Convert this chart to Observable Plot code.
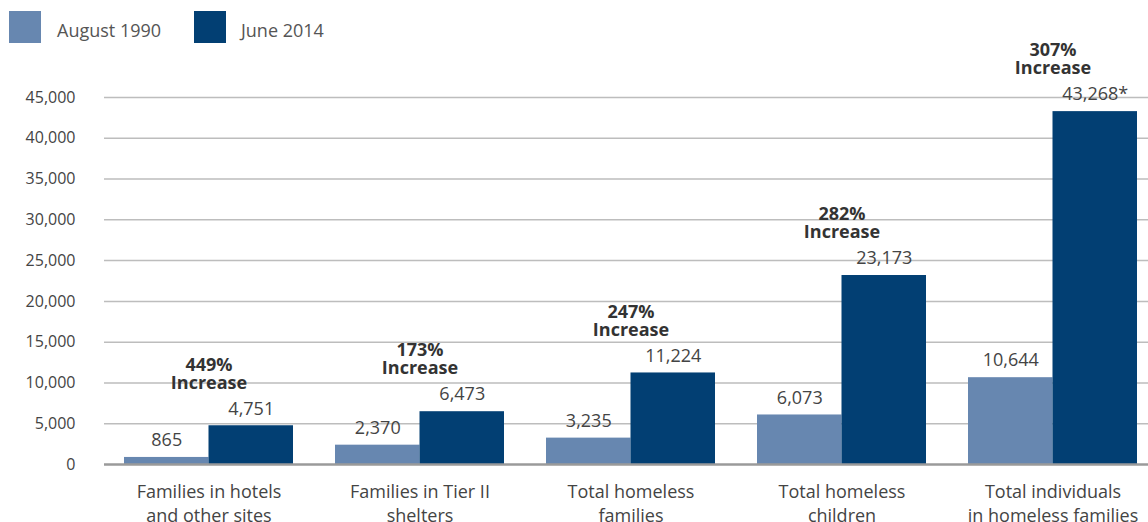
<!DOCTYPE html>
<html><head><meta charset="utf-8">
<script src="https://cdn.jsdelivr.net/npm/d3@7"></script>
<script src="https://cdn.jsdelivr.net/npm/@observablehq/plot@0.6"></script>
<style>
body{margin:0;overflow:hidden;background:#fff;font-family:"Open Sans",sans-serif;}
#legend{position:relative;height:56px;}
.sw{position:absolute;top:11px;width:32px;height:32px;}
.lb{position:absolute;top:20px;font-size:18px;color:#555;line-height:20px;}
</style></head><body>
<div id="legend"></div><div id="chart"></div>
<script>
const categories = ["Families in hotels\nand other sites","Families in Tier II\nshelters","Total homeless\nfamilies","Total homeless\nchildren","Total individuals\nin homeless families"];
const series = ["August 1990","June 2014"];
const aug1990 = [865, 2370, 3235, 6073, 10644];
const jun2014 = [4751, 6473, 11224, 23173, 43268];
const footnotes2014 = ["", "", "", "", "*"];
const increases = ["449%", "173%", "247%", "282%", "307%"];
const yTicks = [0, 5000, 10000, 15000, 20000, 25000, 30000, 35000, 40000, 45000];
const colors = ["#6787b0", "#023f73"];

const fmt = d3.format(",");
const light = categories.map((c, i) => ({category: c, series: series[0], value: aug1990[i], label: fmt(aug1990[i])}));
const dark = categories.map((c, i) => ({category: c, series: series[1], value: jun2014[i], label: fmt(jun2014[i]) + footnotes2014[i], inc: increases[i] + "\nIncrease"}));

// legend
const legend = document.getElementById("legend");
const legendPos = [[9, 57], [194, 241]];
series.forEach((s, i) => {
  const sw = document.createElement("div"); sw.className = "sw"; sw.style.left = legendPos[i][0] + "px"; sw.style.background = colors[i]; legend.appendChild(sw);
  const lb = document.createElement("div"); lb.className = "lb"; lb.style.left = legendPos[i][1] + "px"; lb.textContent = s; legend.appendChild(lb);
});

const half = 84.5;
const chart = Plot.plot({
  width: 1148, height: 466,
  marginLeft: 104, marginRight: 0, marginTop: 41, marginBottom: 58,
  style: {fontFamily: "'Open Sans', sans-serif", color: "#444", overflow: "visible"},
  x: {domain: categories, range: [102, 1158], paddingInner: 0.2, paddingOuter: 0.1, label: null},
  y: {domain: [0, 45000], label: null},
  color: {domain: series, range: colors},
  marks: [
    Plot.ruleY(yTicks.filter(d => d > 0), {stroke: "#bdbdbd", strokeWidth: 1.5}),
    Plot.barY(light, {x: "category", y: "value", fill: "series", insetRight: half}),
    Plot.barY(dark, {x: "category", y: "value", fill: "series", insetLeft: half}),
    Plot.ruleY([0], {stroke: "#9a9a9a", strokeWidth: 2.5}),
    Plot.text(light, {x: "category", y: "value", text: "label", dx: -half / 2, dy: -17, fontSize: 18, fill: "#444"}),
    Plot.text(dark, {x: "category", y: "value", text: "label", dx: half / 2, dy: -17, fontSize: 18, fill: "#444"}),
    Plot.text(dark, {x: "category", y: "value", text: "inc", dy: -52, fontSize: 18, fontWeight: "bold", lineHeight: 1.0, fill: "#333"}),
    Plot.axisY({ticks: yTicks, tickFormat: fmt, tickSize: 0, tickPadding: 29, fontSize: 16, fill: "#444", label: null}),
    Plot.axisX({tickSize: 0, tickPadding: 16, fontSize: 18, lineHeight: 1.35, fill: "#444", label: null})
  ]
});
document.getElementById("chart").appendChild(chart);
</script></body></html>
